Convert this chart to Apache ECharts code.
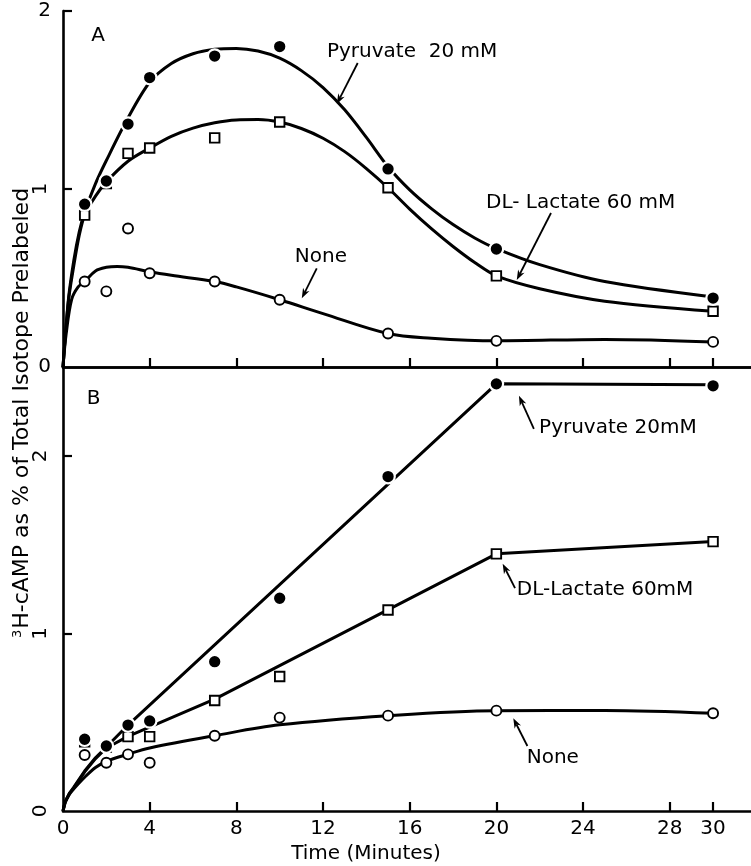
<!DOCTYPE html>
<html><head><meta charset="utf-8">
<script src="https://cdn.jsdelivr.net/npm/echarts@6/dist/echarts.min.js"></script>
<style>html,body{margin:0;padding:0;background:#fff}#c{width:751px;height:866px}</style>
</head><body><div id="c"></div>
<script>
const FONT = 'DejaVu Sans';
// measured time points (minutes)
const timePoints = [1, 2, 3, 4, 7, 10, 15, 20, 30];
// Panel A: 3H-cAMP as % of total isotope prelabeled
const pyruvateA = [0.915, 1.045, 1.365, 1.626, 1.747, 1.80, 1.113, 0.663, 0.387];
const lactateA  = [0.853, 1.03, 1.20, 1.23, 1.287, 1.376, 1.007, 0.512, 0.313];
const noneA     = [0.48, 0.425, 0.778, 0.527, 0.48, 0.378, 0.188, 0.147, 0.141];
// Panel B
const pyruvateB = [0.404, 0.366, 0.484, 0.507, 0.841, 1.198, 1.883, 2.405, 2.394];
const lactateB  = [0.39, 0.36, 0.419, 0.419, 0.622, 0.757, 1.132, 1.448, 1.517];
const noneB     = [0.315, 0.272, 0.319, 0.272, 0.424, 0.526, 0.537, 0.565, 0.55];
// hand-drawn fitted curves
const pyruvateCurveA = [[0,0],[0.25,0.38],[0.5,0.6],[0.75,0.76],[1,0.87],[1.5,1.03],[2,1.16],[3,1.40],[4,1.6],[5,1.705],[6,1.76],[7,1.785],[8,1.79],[9,1.775],[10,1.735],[11,1.665],[12,1.57],[13,1.445],[14,1.29],[15,1.125],[16,0.995],[17,0.89],[18,0.80],[19,0.725],[20,0.665],[22,0.575],[25,0.48],[30,0.393]];
const lactateCurveA = [[0,0],[0.25,0.37],[0.5,0.57],[0.75,0.74],[1,0.853],[1.5,0.96],[2,1.04],[3,1.156],[4,1.23],[5,1.296],[6,1.342],[7,1.372],[8,1.388],[9,1.39],[10,1.376],[11,1.34],[12,1.285],[13,1.21],[14,1.115],[15,1.007],[16,0.887],[17,0.777],[18,0.677],[19,0.587],[20,0.512],[22,0.44],[25,0.37],[30,0.313]];
const noneCurveA = [[0,0],[0.15,0.19],[0.4,0.38],[0.7,0.45],[1,0.48],[1.5,0.54],[2,0.56],[2.5,0.565],[3,0.56],[4,0.535],[5,0.515],[7,0.48],[8,0.45],[10,0.378],[12,0.30],[15,0.188],[17,0.162],[20,0.147],[25,0.155],[30,0.141]];
const pyruvateLineB = [[0,0],[0.1,0.05],[0.3,0.1],[0.5,0.135],[1,0.225],[1.5,0.3],[2,0.36],[3,0.484],[20,2.405],[30,2.40]];
const lactateLineB = [[0,0],[0.1,0.05],[0.3,0.1],[0.5,0.13],[1,0.22],[1.5,0.295],[2,0.355],[3,0.42],[7,0.63],[20,1.448],[30,1.517]];
const noneCurveB = [[0,0],[0.1,0.05],[0.3,0.095],[0.5,0.125],[1,0.19],[1.5,0.245],[2,0.28],[3,0.32],[4,0.355],[7,0.424],[10,0.485],[15,0.537],[20,0.565],[25,0.566],[30,0.55]];
// axis ticks / labels
const xTickLabels = [0, 4, 8, 12, 16, 20, 24, 28, 30];
const xTicks = [4, 8, 12, 16, 20, 24, 28, 30];
const yTicksA = [1, 2];
const yTicksB = [1, 2];

const X_MAX = 31.75;
const chart = echarts.init(document.getElementById('c'), null, {renderer: 'canvas'});
const pts = ys => timePoints.map((t, i) => [t, ys[i]]);
const axisLine = {show: true, lineStyle: {color: '#000', width: 2.6}};
const inTick = vals => ({show: true, inside: true, length: 9, customValues: vals, lineStyle: {color: '#000', width: 2.2}});

function curve(data, gi, smooth) {
  return {type: 'line', xAxisIndex: gi === 0 ? 0 : 2, yAxisIndex: gi === 0 ? 0 : 2, data,
    smooth, showSymbol: false, symbol: 'none', lineStyle: {color: '#000', width: 3}, z: 2, silent: true};
}
function marks(data, gi, kind) {
  const base = {type: 'scatter', xAxisIndex: gi === 0 ? 0 : 2, yAxisIndex: gi === 0 ? 0 : 2, data, z: 5, silent: true};
  if (kind === 'filled') return Object.assign(base, {symbol: 'circle', symbolSize: 13.5, itemStyle: {color: '#000', borderColor: '#fff', borderWidth: 2.2, opacity: 1}});
  if (kind === 'square') return Object.assign(base, {symbol: 'rect', symbolSize: 9.5, itemStyle: {color: '#fff', borderColor: '#000', borderWidth: 1.9, opacity: 1}});
  return Object.assign(base, {symbol: 'circle', symbolSize: 10, itemStyle: {color: '#fff', borderColor: '#000', borderWidth: 1.9, opacity: 1}});
}
const lbl = extra => Object.assign({show: true, color: '#000', fontSize: 20, fontFamily: FONT, margin: 12}, extra);

const option = {
  animation: false,
  backgroundColor: '#fff',
  textStyle: {fontFamily: FONT},
  grid: [
    {left: 63, right: 0, top: 11, height: 356, containLabel: false, outerBoundsMode: 'none'},
    {left: 63, right: 0, top: 367, height: 444, containLabel: false, outerBoundsMode: 'none'}
  ],
  xAxis: [
    {gridIndex: 0, type: 'value', min: 0, max: X_MAX, position: 'bottom', axisLine, axisTick: inTick(xTicks), axisLabel: {show: false}, splitLine: {show: false}},
    {gridIndex: 0, type: 'value', min: 0, max: X_MAX, position: 'top', axisLine, axisTick: {show: false}, axisLabel: {show: false}, splitLine: {show: false}},
    {gridIndex: 1, type: 'value', min: 0, max: X_MAX, position: 'bottom', axisLine, axisTick: inTick(xTicks),
      axisLabel: lbl({customValues: xTickLabels, margin: 8}),
      splitLine: {show: false},
      name: 'Time (Minutes)', nameLocation: 'middle', nameGap: 31,
      nameTextStyle: {color: '#000', fontSize: 20, fontFamily: FONT, padding: [0, 82, 0, 0]}}
  ],
  yAxis: [
    {gridIndex: 0, type: 'value', min: 0, max: 2, position: 'left', axisLine, axisTick: inTick(yTicksA),
      axisLabel: lbl({customValues: [0, 2]}), splitLine: {show: false}},
    {gridIndex: 0, type: 'value', min: 0, max: 2, position: 'left', offset: 0, axisLine: {show: false}, axisTick: {show: false},
      axisLabel: lbl({customValues: [1], rotate: 90}), splitLine: {show: false}},
    {gridIndex: 1, type: 'value', min: 0, max: 2.5, position: 'left', axisLine, axisTick: inTick(yTicksB),
      axisLabel: lbl({customValues: [0, 1, 2], rotate: 90}), splitLine: {show: false}}
  ],
  series: [
    curve(pyruvateCurveA, 0, 0.3), curve(lactateCurveA, 0, 0.3), curve(noneCurveA, 0, 0.35),
    curve(pyruvateLineB, 1, false), curve(lactateLineB, 1, false), curve(noneCurveB, 1, 0.35),
    marks(pts(lactateA), 0, 'square'), marks(pts(noneA), 0, 'open'), marks(pts(pyruvateA), 0, 'filled'),
    marks(pts(lactateB), 1, 'square'), marks(pts(noneB), 1, 'open'), marks(pts(pyruvateB), 1, 'filled')
  ]
};
chart.setOption(option);

// annotations in data coordinates
const annotations = [
  {g: 0, text: 'A', at: [1.3, 1.86]},
  {g: 0, text: 'Pyruvate  20 mM', at: [12.18, 1.77], tail: [13.6, 1.708], tip: [12.64, 1.478]},
  {g: 0, text: 'DL- Lactate 60 mM', at: [19.52, 0.921], tail: [22.52, 0.865], tip: [20.94, 0.489]},
  {g: 0, text: 'None', at: [10.7, 0.618], tail: [11.71, 0.554], tip: [11.02, 0.386]},
  {g: 1, text: 'B', at: [1.1, 2.32]},
  {g: 1, text: 'Pyruvate 20mM', at: [21.97, 2.158], tail: [21.73, 2.152], tip: [21.04, 2.338]},
  {g: 1, text: 'DL-Lactate 60mM', at: [20.94, 1.245], tail: [20.86, 1.255], tip: [20.29, 1.392]},
  {g: 1, text: 'None', at: [21.4, 0.30], tail: [21.43, 0.366], tip: [20.78, 0.522]}
];
function arrowEls(p1, p2) {
  const dx = p2[0] - p1[0], dy = p2[1] - p1[1], L = Math.hypot(dx, dy);
  const ux = dx / L, uy = dy / L, nx = -uy, ny = ux;
  const hl = 10, hw = 3.6, inn = 7;
  const bx = p2[0] - ux * hl, by = p2[1] - uy * hl;
  const ix = p2[0] - ux * inn, iy = p2[1] - uy * inn;
  return [
    {type: 'line', shape: {x1: p1[0], y1: p1[1], x2: ix, y2: iy}, style: {stroke: '#000', lineWidth: 1.8}, silent: true},
    {type: 'polygon', shape: {points: [[p2[0], p2[1]], [bx + nx * hw, by + ny * hw], [ix, iy], [bx - nx * hw, by - ny * hw]]}, style: {fill: '#000'}, silent: true}
  ];
}
const gEls = [];
annotations.forEach(a => {
  const p = chart.convertToPixel({gridIndex: a.g}, a.at);
  gEls.push({type: 'text', x: p[0], y: p[1], silent: true,
    style: {text: a.text, fill: '#000', font: '20px "' + FONT + '"', textAlign: 'left', textVerticalAlign: 'middle'}});
  if (a.tail) {
    const p1 = chart.convertToPixel({gridIndex: a.g}, a.tail);
    const p2 = chart.convertToPixel({gridIndex: a.g}, a.tip);
    gEls.push(...arrowEls(p1, p2));
  }
});
gEls.push({type: 'text', x: 22, y: 413, rotation: Math.PI / 2, silent: true,
  style: {text: '{s|3}H-cAMP as % of Total Isotope Prelabeled', fill: '#000', font: '22px "' + FONT + '"',
    textAlign: 'center', textVerticalAlign: 'middle',
    rich: {s: {fontSize: 13, fontFamily: FONT, verticalAlign: 'top', padding: [0, 1, 9, 0]}}}});
chart.setOption({graphic: {elements: gEls}});
</script>
</body></html>
